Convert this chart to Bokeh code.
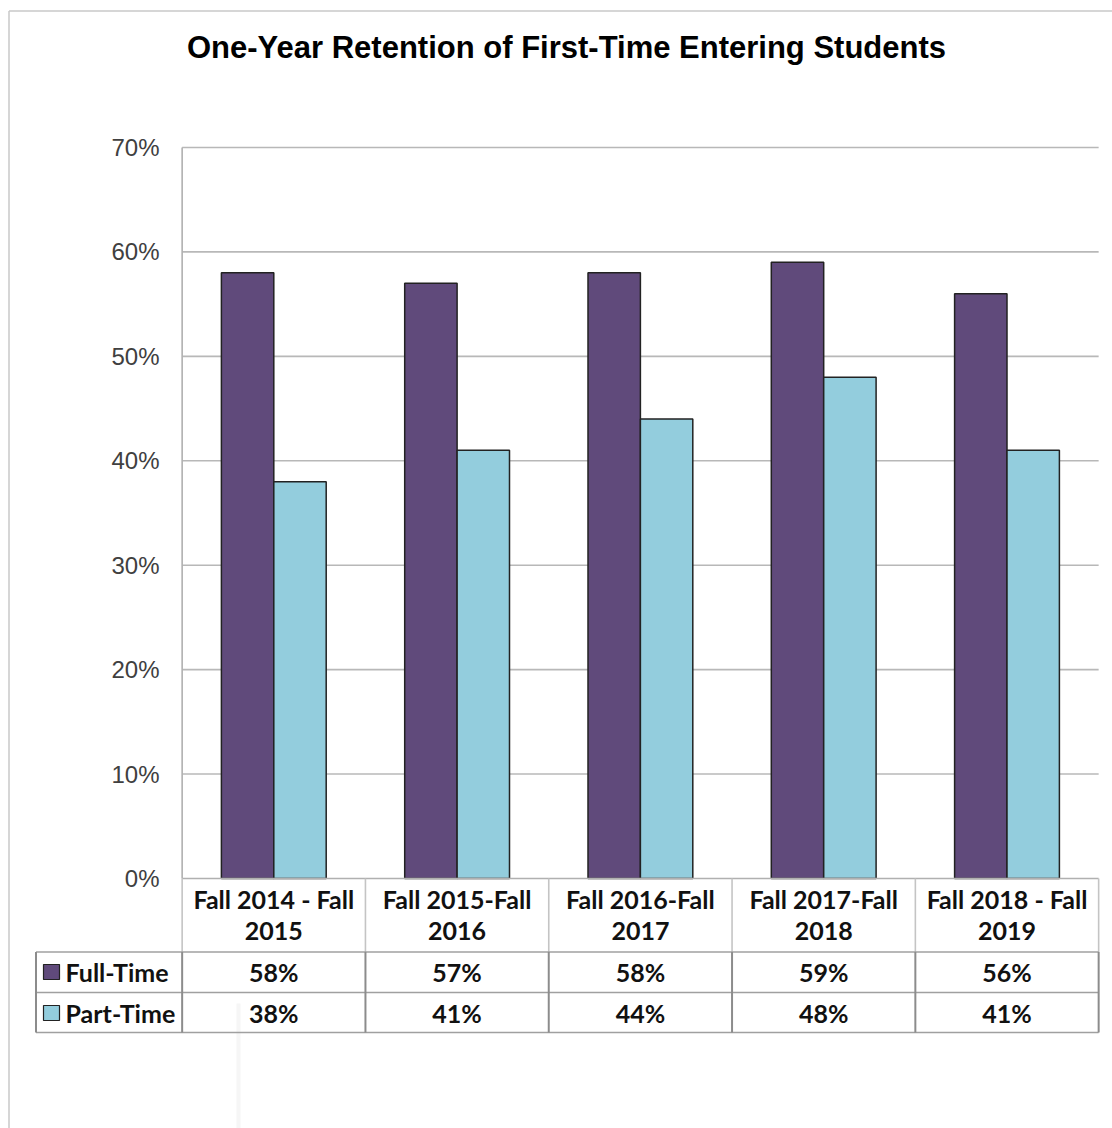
from bokeh.plotting import figure
from bokeh.models import Range1d
from bokeh.core.properties import value
from bokeh.embed import file_html
from bokeh.resources import INLINE

# ---- data ----
categories_line1 = ["Fall 2014 - Fall", "Fall 2015-Fall", "Fall 2016-Fall", "Fall 2017-Fall", "Fall 2018 - Fall"]
categories_line2 = ["2015", "2016", "2017", "2018", "2019"]
full_time = [0.58, 0.57, 0.58, 0.59, 0.56]
part_time = [0.38, 0.41, 0.44, 0.48, 0.41]
series_names = ["Full-Time", "Part-Time"]
y_ticks = [0.0, 0.1, 0.2, 0.3, 0.4, 0.5, 0.6, 0.7]
y_tick_labels = ["0%", "10%", "20%", "30%", "40%", "50%", "60%", "70%"]
title_text = "One-Year Retention of First-Time Entering Students"

# ---- colours / layout ----
PURPLE = "#604A7B"
AQUA = "#93CDDD"
W, H = 1112, 1128
X0PX, XSTEP = 273.3, 183.3      # pixel of category 0 center, px per category
Y0PX, YSCALE = 878.0, 1044.3    # pixel of 0%, px per unit (100%)


def px(xp):
    return (xp - X0PX) / XSTEP


def py(yp):
    return (Y0PX - yp) / YSCALE


p = figure(width=W, height=H, output_backend="svg", toolbar_location=None,
           x_range=Range1d(px(0), px(W)), y_range=Range1d(py(H), py(0)),
           x_axis_type=None, y_axis_type=None, min_border=0)
p.outline_line_color = None
p.grid.visible = False
p.background_fill_color = "white"
p.border_fill_color = "white"

n = len(full_time)
xs = list(range(n))
left_edge, right_edge = -0.5, n - 0.5
TABLE_FONT = "25px"

# outer chart border (left & top)
p.segment(x0=[px(8.5), px(8.5)], y0=[py(H), py(10.5)], x1=[px(8.5), px(W)], y1=[py(10.5), py(10.5)],
          line_color="#c8c8c8", line_width=1.5)

# faint artefact line
p.segment(x0=[px(238)], y0=[py(1003)], x1=[px(238)], y1=[py(H)], line_color="#f6f6f6", line_width=4)

# gridlines
grid_vals = [t for t in y_ticks if t > 0]
p.segment(x0=[left_edge] * len(grid_vals), y0=grid_vals, x1=[right_edge] * len(grid_vals), y1=grid_vals,
          line_color="#b8b8b8", line_width=1.6)
# vertical axis line
p.segment(x0=[left_edge], y0=[0], x1=[left_edge], y1=[max(y_ticks)], line_color="#b0b0b0", line_width=1.6)

# tick labels
p.text(x=[px(159)] * len(y_ticks), y=y_ticks, text=y_tick_labels, text_align="right", text_baseline="middle",
       text_font=value("Liberation Sans"), text_font_size="24px", text_color="#404040")

# bars
bw = 52.4 / XSTEP
p.vbar(x=[x - bw / 2 for x in xs], top=full_time, bottom=0, width=bw, fill_color=PURPLE,
       line_color="#222222", line_width=1.5)
p.vbar(x=[x + bw / 2 for x in xs], top=part_time, bottom=0, width=bw, fill_color=AQUA,
       line_color="#222222", line_width=1.5)

# ---- data table ----
row_header_bottom = py(951.5)
row1_bottom = py(992)
row2_bottom = py(1032)
table_left = px(35.5)

# header row lines (lighter)
p.segment(x0=[left_edge], y0=[0], x1=[right_edge], y1=[0], line_color="#b0b0b0", line_width=1.6)
hx = [left_edge + i for i in range(n + 1)]
p.segment(x0=hx, y0=[0] * len(hx), x1=hx, y1=[row_header_bottom] * len(hx), line_color="#c4c4c4", line_width=1.6)

# data rows lines (darker)
p.segment(x0=[table_left] * 3, y0=[row_header_bottom, row1_bottom, row2_bottom],
          x1=[right_edge] * 3, y1=[row_header_bottom, row1_bottom, row2_bottom],
          line_color="#a0a0a0", line_width=1.6)
vx = [table_left] + hx
p.segment(x0=vx, y0=[row_header_bottom] * len(vx), x1=vx, y1=[row2_bottom] * len(vx),
          line_color="#8c8c8c", line_width=2)

# category labels
p.text(x=xs, y=[py(898)] * n, text=categories_line1, text_align="center", text_baseline="middle",
       text_font=value("Lato"), text_font_style="bold", text_font_size=TABLE_FONT, text_color="#111111")
p.text(x=xs, y=[py(930)] * n, text=categories_line2, text_align="center", text_baseline="middle",
       text_font=value("Lato"), text_font_style="bold", text_font_size=TABLE_FONT, text_color="#111111")

# values
p.text(x=xs, y=[py(971)] * n, text=[f"{round(v * 100)}%" for v in full_time], text_align="center",
       text_baseline="middle", text_font=value("Lato"), text_font_style="bold", text_font_size=TABLE_FONT,
       text_color="#111111")
p.text(x=xs, y=[py(1012)] * n, text=[f"{round(v * 100)}%" for v in part_time], text_align="center",
       text_baseline="middle", text_font=value("Lato"), text_font_style="bold", text_font_size=TABLE_FONT,
       text_color="#111111")

# legend keys and names
p.quad(left=[px(43), px(43)], right=[px(59), px(59)], bottom=[py(979), py(1020)], top=[py(964), py(1005)],
       fill_color=[PURPLE, AQUA], line_color="#222222", line_width=1.2)
p.text(x=[px(65), px(65)], y=[py(971), py(1012)], text=series_names, text_align="left", text_baseline="middle",
       text_font=value("Lato"), text_font_style="bold", text_font_size=TABLE_FONT, text_color="#111111")

# title
p.text(x=[px(566)], y=[py(47)], text=[title_text], text_align="center", text_baseline="middle",
       text_font=value("Liberation Sans"), text_font_style="bold", text_font_size="31px", text_color="#000000")

open("out.html", "w").write(file_html(p, INLINE))
